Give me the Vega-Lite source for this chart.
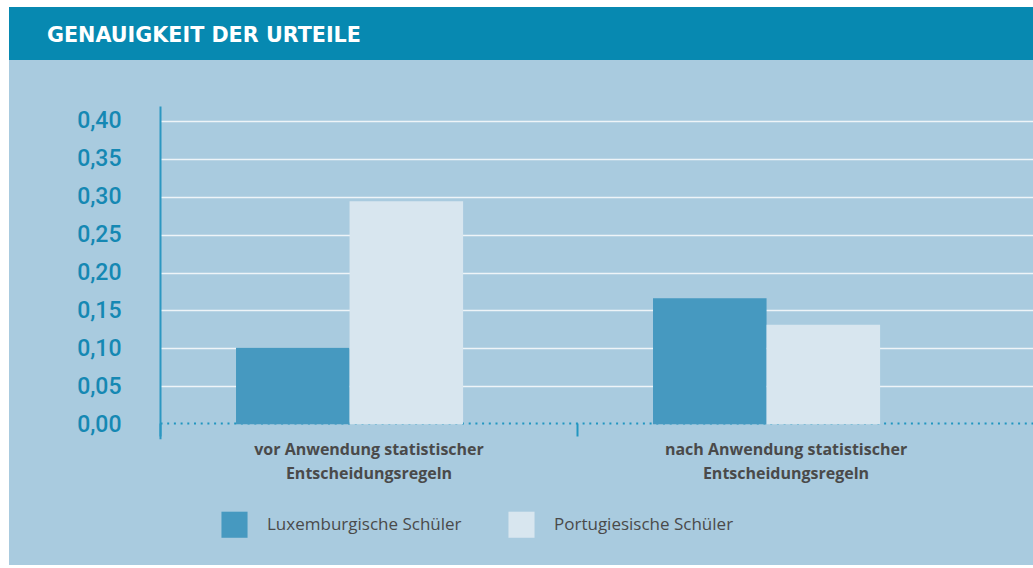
{
  "$schema": "https://vega.github.io/schema/vega-lite/v6.json",
  "background": "white",
  "padding": {"left": 9, "top": 7, "right": 0, "bottom": 3},
  "spacing": 0,
  "config": {"view": {"stroke": null}},
  "vconcat": [
    {
      "width": 1024,
      "height": 53,
      "view": {"fill": "#0789b1", "stroke": null},
      "title": {
        "text": "GENAUIGKEIT DER URTEILE",
        "frame": "group",
        "anchor": "start",
        "orient": "top",
        "dx": 38,
        "offset": -56,
        "baseline": "alphabetic",
        "font": "DejaVu Sans",
        "fontSize": 20.7,
        "fontWeight": "bold",
        "color": "white"
      },
      "data": {"values": [{}]},
      "mark": {"type": "text"},
      "encoding": {"text": {"value": ""}}
    },
    {
      "width": 1024,
      "height": 505,
      "view": {"fill": "#a9cbdf", "stroke": null},
      "data": {
        "values": [
          {"cat": "vor Anwendung statistischer Entscheidungsregeln", "group": "Luxemburgische Schüler", "value": 0.101},
          {"cat": "vor Anwendung statistischer Entscheidungsregeln", "group": "Portugiesische Schüler", "value": 0.294},
          {"cat": "nach Anwendung statistischer Entscheidungsregeln", "group": "Luxemburgische Schüler", "value": 0.166},
          {"cat": "nach Anwendung statistischer Entscheidungsregeln", "group": "Portugiesische Schüler", "value": 0.131}
        ]
      },
      "mark": {"type": "bar"},
      "encoding": {
        "x": {
          "field": "cat",
          "type": "nominal",
          "sort": null,
          "scale": {"range": [151, 1024], "paddingInner": 0.3645, "paddingOuter": 0.229, "align": 0.398},
          "axis": {
            "title": null,
            "orient": "bottom",
            "offset": -142,
            "grid": false,
            "domain": true,
            "domainColor": "#2196c0",
            "domainWidth": 2,
            "domainDash": [2, 4.7],
            "ticks": true,
            "tickSize": 13,
            "tickWidth": 2,
            "tickColor": "#2196c0",
            "tickOffset": -208.5,
            "labelOffset": 208.5,
            "labelPadding": 5,
            "labelAngle": 0,
            "labelFont": "Open Sans",
            "labelFontSize": 16,
            "labelFontWeight": "bold",
            "labelColor": "#4a4a4a",
            "labelLineHeight": 24,
            "labelLimit": 0,
            "labelBaseline": "top",
            "labelExpr": "split(replace(datum.label, ' Entscheidungsregeln', '|Entscheidungsregeln'), '|')"
          }
        },
        "xOffset": {
          "field": "group",
          "type": "nominal",
          "scale": {"paddingInner": 0, "paddingOuter": 0.167, "align": 0}
        },
        "y": {
          "field": "value",
          "type": "quantitative",
          "stack": null,
          "scale": {"domain": [-0.019, 0.4194], "range": [378.7, 46], "nice": false, "zero": false},
          "axis": {
            "title": null,
            "orient": "left",
            "offset": -151,
            "values": [0, 0.05, 0.1, 0.15, 0.2, 0.25, 0.3, 0.35, 0.4],
            "labelExpr": "replace(format(datum.value, '.2f'), '.', ',')",
            "ticks": false,
            "tickSize": 0,
            "labelPadding": 39,
            "labelFont": "Roboto",
            "labelFontSize": 23,
            "labelFontWeight": 500,
            "labelColor": "#1588b3",
            "domain": true,
            "domainColor": "#2c97c1",
            "domainWidth": 2,
            "grid": true,
            "gridColor": {"condition": {"test": "datum.value === 0", "value": "transparent"}, "value": "#eef4f8"},
            "gridWidth": 1.5
          }
        },
        "y2": {"datum": 0},
        "color": {
          "field": "group",
          "type": "nominal",
          "scale": {"domain": ["Luxemburgische Schüler", "Portugiesische Schüler"], "range": ["#4699c0", "#d8e6ef"]},
          "legend": {
            "title": null,
            "orient": "none",
            "legendX": 212,
            "legendY": 504,
            "direction": "horizontal",
            "padding": 0,
            "symbolType": "square",
            "symbolSize": 680,
            "symbolStrokeWidth": 0,
            "symbolOpacity": 1,
            "labelFont": "Open Sans",
            "labelFontSize": 17,
            "labelColor": "#4a4a4a",
            "labelOffset": 19,
            "labelLimit": 0,
            "columnPadding": 46
          }
        }
      }
    }
  ]
}
